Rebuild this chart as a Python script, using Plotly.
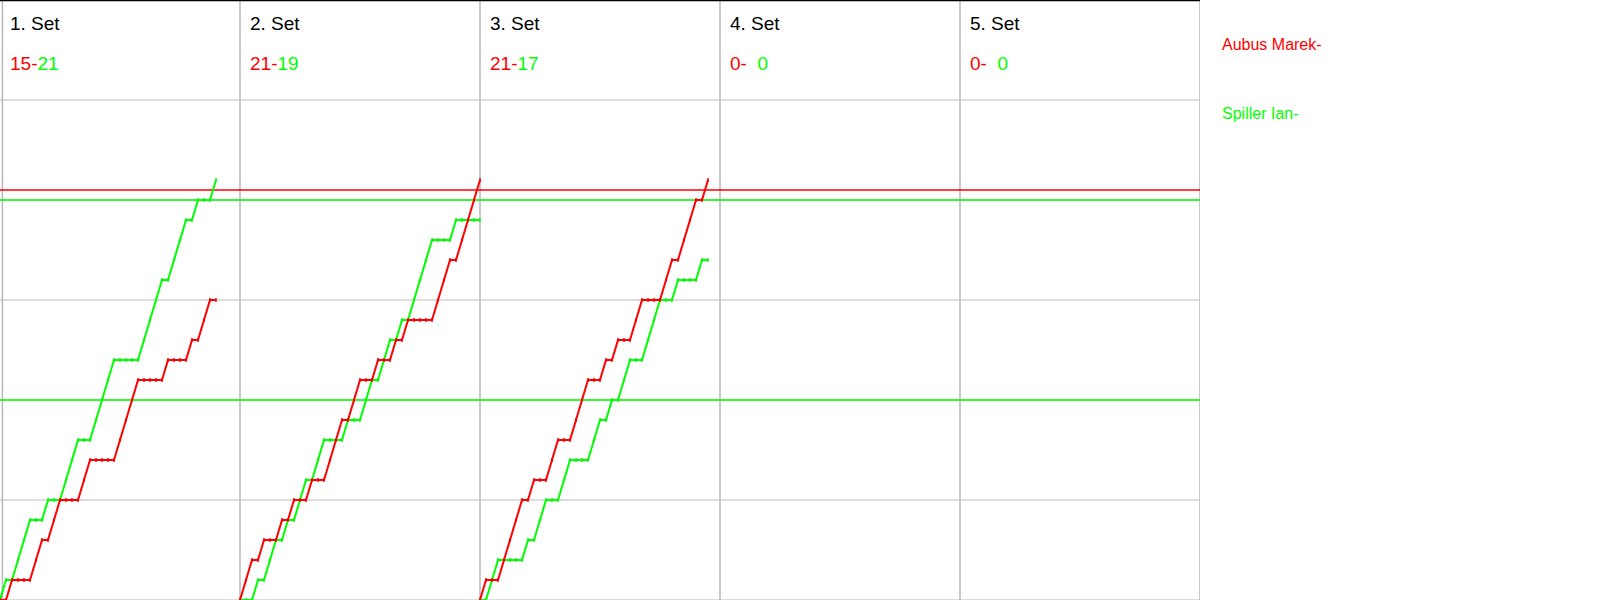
import plotly.graph_objects as go

# ---- data ----
SET_LABELS = ["1. Set", "2. Set", "3. Set", "4. Set", "5. Set"]
RED_SCORES = [15, 21, 21, 0, 0]
GREEN_SCORES = [21, 19, 17, 0, 0]
# winner of each rally per set (R = Aubus Marek, G = Spiller Ian)
RALLY_WINNERS = [
    "GRGGGRRGRRGGGRRGGGGRRRRGGGGRGGGRGRRG",
    "RRGRGGRGRGGRGGRRRGRRGGRGGRGRGGGGRRRGRRRR",
    "RGGRRRRGRGGRRGGRRRGGRGRGGRRGGGRRGRRRGR",
    "",
    "",
]
PLAYER_RED = "Aubus Marek-"
PLAYER_GREEN = "Spiller Ian-"
RED_REF_LINES = [20.5]
GREEN_REF_LINES = [20, 10]
GRID_Y = [0, 5, 10, 15, 20, 25]

RED = "#ff0000"
GREEN = "#00ff00"
SET_W = 40          # rallies per panel
Y_MAX = 30
FONT = "Liberation Sans, Arial, sans-serif"

fig = go.Figure()
shapes = []
# horizontal grid
for gy in GRID_Y:
    shapes.append(dict(type="line", xref="x", yref="y", x0=0, x1=SET_W * 5, y0=gy, y1=gy,
                       line=dict(color="#d2d2d2", width=1.5), layer="below"))
# vertical separators
for i in range(6):
    xv = i * SET_W if i > 0 else 0.4
    shapes.append(dict(type="line", xref="x", yref="y", x0=xv, x1=xv, y0=0, y1=Y_MAX,
                       line=dict(color="#b8b8b8", width=1.5), layer="below"))
# top border
shapes.append(dict(type="line", xref="x", yref="y", x0=0, x1=SET_W * 5, y0=Y_MAX, y1=Y_MAX,
                   line=dict(color="black", width=2.5), layer="below"))
# reference lines
for v in RED_REF_LINES:
    shapes.append(dict(type="line", xref="x", yref="y", x0=0, x1=SET_W * 5, y0=v, y1=v,
                       line=dict(color=RED, width=1.5), layer="below"))
for v in GREEN_REF_LINES:
    shapes.append(dict(type="line", xref="x", yref="y", x0=0, x1=SET_W * 5, y0=v, y1=v,
                       line=dict(color=GREEN, width=1.5), layer="below"))

annotations = []
for si, seq in enumerate(RALLY_WINNERS):
    x0 = si * SET_W
    if seq:
        xs, rs, gs = [x0], [0], [0]
        r = g = 0
        for k, w in enumerate(seq, start=1):
            if w == "R":
                r += 1
            else:
                g += 1
            xs.append(x0 + k)
            rs.append(r)
            gs.append(g)
        for ys, col in ((gs, GREEN), (rs, RED)):
            fig.add_trace(go.Scatter(
                x=xs, y=ys, mode="lines+markers",
                line=dict(color=col, width=2),
                marker=dict(symbol="line-ns", size=3, line=dict(color=col, width=1.5)),
                showlegend=False, hoverinfo="skip"))
    annotations.append(dict(x=x0 + 1.25, y=28.85, xref="x", yref="y", text=SET_LABELS[si],
                            showarrow=False, xanchor="left", yanchor="middle",
                            font=dict(family=FONT, size=19, color="black")))
    gtxt = str(GREEN_SCORES[si]) if GREEN_SCORES[si] >= 10 else "&nbsp;&nbsp;" + str(GREEN_SCORES[si])
    annotations.append(dict(x=x0 + 1.25, y=26.85, xref="x", yref="y",
                            text=f"<span style='color:{RED}'>{RED_SCORES[si]}-</span>"
                                 f"<span style='color:{GREEN}'>{gtxt}</span>",
                            showarrow=False, xanchor="left", yanchor="middle",
                            font=dict(family=FONT, size=19, color=RED)))

annotations.append(dict(x=1220 / 1600, y=1 - 44 / 600, xref="paper", yref="paper", text=PLAYER_RED,
                        showarrow=False, xanchor="left", yanchor="middle",
                        font=dict(family=FONT, size=16, color=RED)))
annotations.append(dict(x=1220 / 1600, y=1 - 114 / 600, xref="paper", yref="paper", text=PLAYER_GREEN,
                        showarrow=False, xanchor="left", yanchor="middle",
                        font=dict(family=FONT, size=16, color=GREEN)))

fig.update_layout(
    width=1600, height=600,
    margin=dict(l=0, r=0, t=0, b=0),
    paper_bgcolor="white", plot_bgcolor="white",
    xaxis=dict(range=[0, SET_W * 5], domain=[0, 0.75], visible=False, fixedrange=True),
    yaxis=dict(range=[0, Y_MAX], visible=False, fixedrange=True),
    shapes=shapes, annotations=annotations,
    showlegend=False,
)
fig.write_html("out.html", config={"displayModeBar": False},
               post_script="document.body.style.margin='0';document.body.style.overflow='hidden';")
